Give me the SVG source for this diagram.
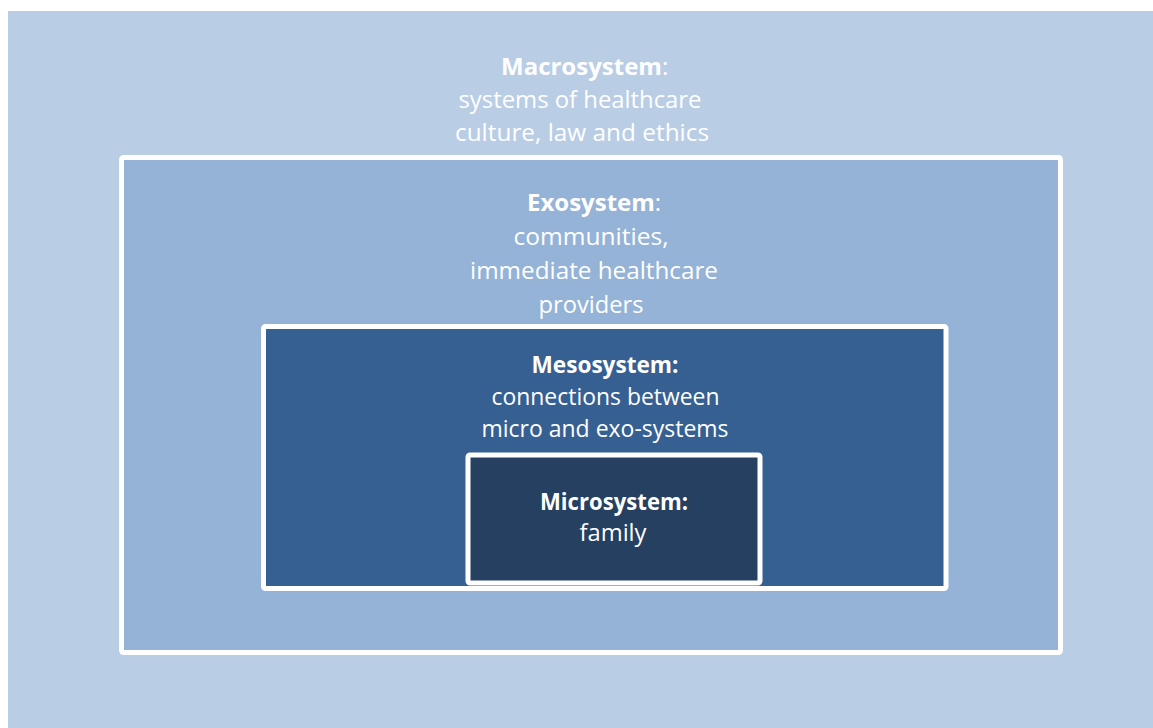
<svg xmlns="http://www.w3.org/2000/svg" width="1153" height="728" viewBox="0 0 1153 728">
<style>
.box{stroke:#ffffff;stroke-width:5}
text{font-family:"Open Sans","Noto Sans","Liberation Sans",sans-serif;font-size:24px;fill:#ffffff}
.b{font-weight:700}
.m{text-anchor:middle}
</style>
<rect x="0" y="0" width="1153" height="728" fill="#ffffff"/>
<g id="macrosystem">
<rect x="8" y="11" width="1145" height="717" fill="#B9CDE5"/>
<text x="501" y="75"><tspan class="b">Macrosystem</tspan>:</text>
<text class="m" x="580" y="108" textLength="243" lengthAdjust="spacingAndGlyphs">systems of healthcare</text>
<text class="m" x="582" y="141" textLength="254" lengthAdjust="spacingAndGlyphs">culture, law and ethics</text>
</g>
<g id="exosystem">
<rect class="box" x="121.5" y="157.5" width="939" height="495" rx="2" fill="#95B3D7"/>
<text x="527" y="211"><tspan class="b">Exosystem</tspan>:</text>
<text class="m" x="591" y="245" textLength="155" lengthAdjust="spacingAndGlyphs">communities,</text>
<text class="m" x="594" y="279" textLength="248" lengthAdjust="spacingAndGlyphs">immediate healthcare</text>
<text class="m" x="591" y="313" textLength="105" lengthAdjust="spacingAndGlyphs">providers</text>
</g>
<g id="mesosystem">
<rect class="box" x="263.5" y="326.5" width="682.5" height="262" rx="2" fill="#366092"/>
<text class="m b" x="605" y="373" textLength="147" lengthAdjust="spacingAndGlyphs">Mesosystem:</text>
<text class="m" x="605.5" y="405" textLength="228" lengthAdjust="spacingAndGlyphs">connections between</text>
<text class="m" x="605" y="437" textLength="247" lengthAdjust="spacingAndGlyphs">micro and exo-systems</text>
</g>
<g id="microsystem">
<rect class="box" x="468" y="455" width="292" height="128" rx="2" fill="#254061"/>
<text class="m b" x="614" y="510" textLength="148" lengthAdjust="spacingAndGlyphs">Microsystem:</text>
<text class="m" x="613" y="541" textLength="67" lengthAdjust="spacingAndGlyphs">family</text>
</g>
<g id="connectors"/>
</svg>
